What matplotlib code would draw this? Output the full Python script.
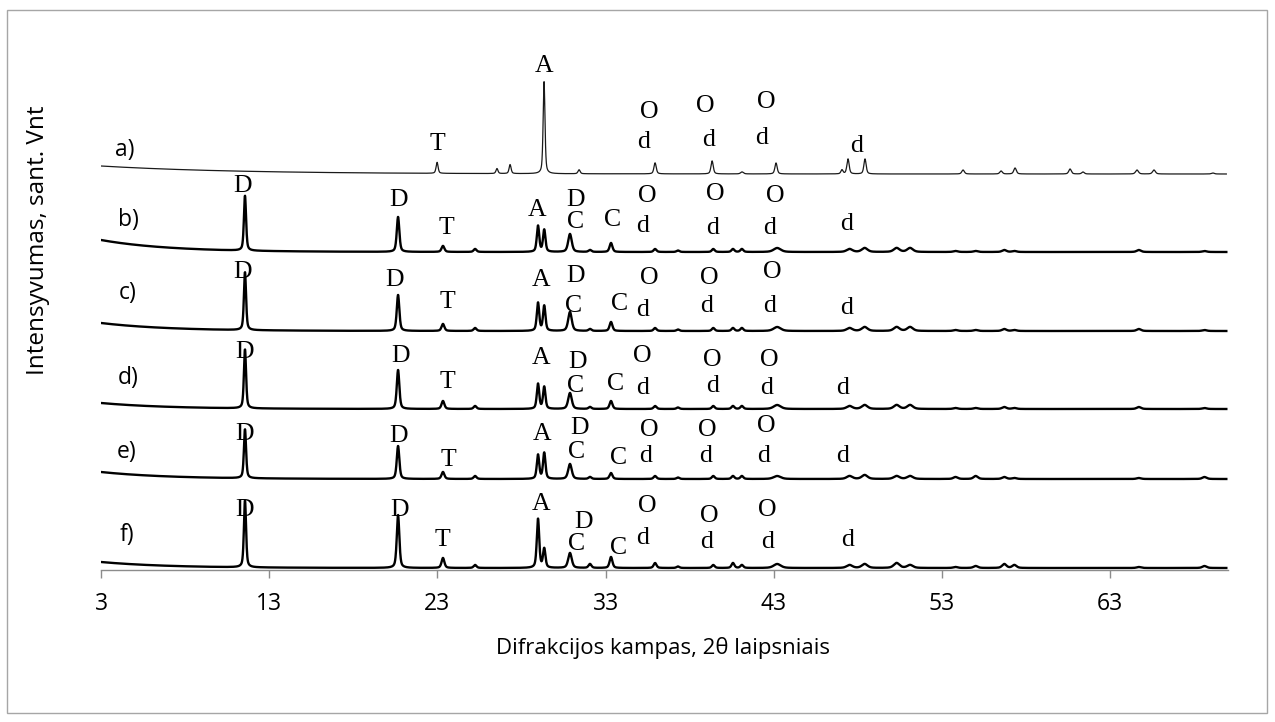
import numpy as np
import matplotlib
matplotlib.use("Agg")
import matplotlib.pyplot as plt

# sample names (offset traces, top to bottom)
samples = ["a)", "b)", "c)", "d)", "e)", "f)"]

# trace a) : peak positions (2theta), heights and widths
a_pos = [22.98, 26.54, 27.32, 29.34, 31.42, 35.94, 39.33, 41.11, 43.13, 47.05, 47.41,
         48.42, 54.25, 56.51, 57.34, 60.61, 61.38, 64.59, 65.60, 69.10]
a_hts = [11, 5, 9, 92, 4, 11, 13, 2, 11, 4, 15, 15, 4, 3, 6, 5, 2, 4, 4, 1]
a_wid = [0.14, 0.14, 0.14, 0.13, 0.15, 0.16, 0.16, 0.2, 0.16, 0.15, 0.16,
         0.16, 0.18, 0.18, 0.18, 0.18, 0.18, 0.2, 0.2, 0.2]

# traces b) - f) share the same reflections
bf_pos = [11.56, 20.66, 23.33, 25.24, 28.98, 29.35, 30.88, 32.07, 33.32, 35.94, 37.30,
          39.40, 40.57, 41.10, 43.20, 47.50, 48.40, 50.30, 51.10, 53.80, 55.00, 56.70,
          57.30, 64.70, 68.60]
bf_wid = [0.15, 0.18, 0.2, 0.2, 0.17, 0.17, 0.25, 0.2, 0.2, 0.2, 0.2,
          0.2, 0.2, 0.2, 0.5, 0.4, 0.4, 0.4, 0.4, 0.3, 0.3, 0.3,
          0.3, 0.3, 0.3]
b_hts = [55, 35, 6, 3, 26, 22, 18, 2, 9, 3, 1.5, 3, 3, 3, 4, 3, 4, 4, 4, 1, 1, 2, 1, 2, 1]
c_hts = [58, 36, 7, 3, 28, 25, 19, 2, 9, 3, 1.5, 3, 3, 3, 4, 3, 4, 4, 4, 1, 1, 2, 1, 2, 1]
d_hts = [59, 39, 8, 3, 25, 22, 16, 2, 8, 3, 1.5, 3, 3, 3, 4, 3, 4, 4, 4, 1, 1, 2, 1, 2, 1]
e_hts = [49, 33, 7, 3, 24, 26, 15, 2, 6, 3, 1.5, 3, 3, 3, 3, 3, 4, 3, 3, 2, 3, 2, 1, 1, 2]
f_hts = [67, 53, 10, 3, 49, 19, 15, 4, 11, 5, 1.5, 3, 5, 3, 4, 3, 4, 5, 3, 1, 2, 4, 3, 1, 2]

# background level (flat part) and low-angle excess for each trace
base_flat = [396, 318, 239, 161, 91, 2]
base_extra = [8, 12, 8, 6, 7, 6]
base_tau = [8, 4, 4, 4, 4, 4]

# phase labels: (letter, 2theta, y)
lab_a = [("T", 22.98, 419.5), ("A", 29.34, 498.5), ("O", 35.58, 451.5), ("d", 35.28, 421.5),
         ("O", 38.91, 457.5), ("d", 39.09, 424.5), ("O", 42.54, 461.5), ("d", 42.30, 426.5),
         ("d", 47.89, 418.5)]
lab_b = [("D", 11.44, 378.5), ("D", 20.66, 364.5), ("T", 23.51, 336.5), ("A", 28.92, 353.5),
         ("D", 31.24, 363.5), ("C", 31.24, 342.5), ("C", 33.44, 344.5), ("O", 35.46, 368.5),
         ("d", 35.22, 337.5), ("O", 39.50, 370.5), ("d", 39.33, 335.5), ("O", 43.07, 367.5),
         ("d", 42.77, 335.5), ("d", 47.35, 339.5)]
lab_c = [("D", 11.44, 291.5), ("D", 20.48, 283.5), ("T", 23.57, 262.5), ("A", 29.16, 284.5),
         ("D", 31.24, 288.5), ("C", 31.12, 258.5), ("C", 33.80, 260.5), ("O", 35.58, 285.5),
         ("d", 35.22, 254.5), ("O", 39.15, 285.5), ("d", 39.03, 258.5), ("O", 42.89, 291.5),
         ("d", 42.77, 258.5), ("d", 47.35, 255.5)]
lab_d = [("D", 11.56, 211.5), ("D", 20.78, 208.5), ("T", 23.57, 181.5), ("A", 29.16, 206.5),
         ("D", 31.30, 201.5), ("C", 31.24, 178.5), ("C", 33.62, 179.5), ("O", 35.16, 208.5),
         ("d", 35.22, 176.5), ("O", 39.33, 203.5), ("d", 39.33, 178.5), ("O", 42.71, 204.5),
         ("d", 42.54, 176.5), ("d", 47.11, 176.5)]
lab_e = [("D", 11.56, 129.5), ("D", 20.66, 128.5), ("T", 23.63, 104.5), ("A", 29.22, 129.5),
         ("D", 31.42, 136.5), ("C", 31.30, 111.5), ("C", 33.74, 105.5), ("O", 35.58, 134.5),
         ("d", 35.40, 108.5), ("O", 39.03, 133.5), ("d", 38.97, 108.5), ("O", 42.54, 138.5),
         ("d", 42.36, 108.5), ("d", 47.11, 108.5)]
lab_f = [("D", 11.56, 54.5), ("D", 20.72, 53.5), ("T", 23.27, 24.5), ("A", 29.16, 59.5),
         ("D", 31.66, 41.5), ("C", 31.30, 19.5), ("C", 33.74, 16.5), ("O", 35.46, 58.5),
         ("d", 35.22, 26.5), ("O", 39.15, 48.5), ("d", 39.03, 21.5), ("O", 42.60, 53.5),
         ("d", 42.60, 21.5), ("d", 47.41, 23.5)]

# sample name positions
name_x = [4.43, 4.66, 4.61, 4.61, 4.55, 4.55]
name_y = [420, 350, 277, 192, 118, 35]

x_ticks = [3, 13, 23, 33, 43, 53, 63]


def profile(x, pos, hts, wid, eta=0.5):
    y = np.zeros_like(x)
    for p, h, w in zip(pos, hts, wid):
        u = (x - p) / w
        g = np.exp(-4 * np.log(2) * u ** 2)
        l = 1.0 / (1 + 4 * u ** 2)
        y += h * (eta * l + (1 - eta) * g)
    return y


W, H = 1275, 722
fig = plt.figure(figsize=(W / 100, H / 100), dpi=100)
ax = fig.add_axes([101 / W, 152 / H, 1127 / W, 540 / H])

x = np.linspace(3, 69.9, 6000)
traces = [(a_pos, a_hts, a_wid), (bf_pos, b_hts, bf_wid), (bf_pos, c_hts, bf_wid),
          (bf_pos, d_hts, bf_wid), (bf_pos, e_hts, bf_wid), (bf_pos, f_hts, bf_wid)]

for i, (pos, hts, wid) in enumerate(traces):
    base = base_flat[i] + base_extra[i] * np.exp(-(x - 3) / base_tau[i])
    y = base + profile(x, pos, hts, wid)
    if i == 0:
        ax.plot(x, y, color="#1a1a1a", lw=0.9)
    else:
        ax.plot(x, y, color="black", lw=1.7)

serif = {"family": "Liberation Serif", "size": 18.5}
for labels in [lab_a, lab_b, lab_c, lab_d, lab_e, lab_f]:
    for letter, lx, ly in labels:
        ax.text(lx, ly, letter, ha="center", va="baseline", fontdict=serif)

for name, nx, ny in zip(samples, name_x, name_y):
    ax.text(nx, ny, name, ha="center", va="center", family="Open Sans", fontsize=16.5)

ax.set_xlim(3, 70)
ax.set_ylim(0, 540)
ax.set_xticks(x_ticks)
ax.set_xticklabels([str(t) for t in x_ticks], family="Open Sans", fontsize=16.5)
ax.tick_params(axis="x", direction="out", length=6, width=1, color="#8c8c8c", pad=10)
ax.set_yticks([])
for side in ["left", "right", "top"]:
    ax.spines[side].set_visible(False)
ax.spines["bottom"].set_color("#8c8c8c")
ax.spines["bottom"].set_linewidth(1)

fig.text(663 / W, 1 - 648 / H, "Difrakcijos kampas, 2θ laipsniais", ha="center", va="center",
         family="Open Sans", fontsize=16)
fig.text(38 / W, 1 - 240 / H, "Intensyvumas, sant. Vnt", ha="center", va="center",
         rotation=90, family="Open Sans", fontsize=17.5)

border = plt.Rectangle((7 / W, 1 - 713 / H), 1260 / W, 703 / H, transform=fig.transFigure,
                       fill=False, ec="#a6a6a6", lw=1)
fig.add_artist(border)

fig.savefig("out.png", dpi=100)
